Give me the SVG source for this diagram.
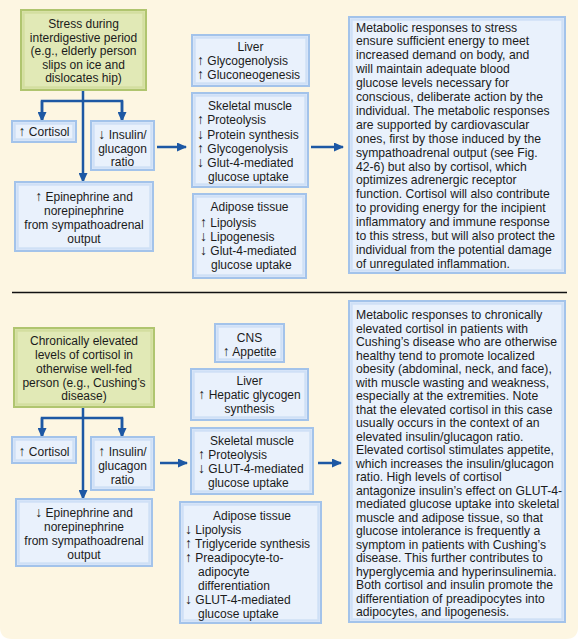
<svg xmlns="http://www.w3.org/2000/svg" width="578" height="639" viewBox="0 0 578 639">
<defs>
<style>
.t{font-family:"Liberation Sans",Arial,Helvetica,sans-serif;font-size:12px;fill:#1b1b1b}
.s{font-size:12.2px}
.a{font-size:14px}
.c{text-anchor:middle}
.bo{fill:#e9f1fc;stroke:#a3c3ea;stroke-width:2}
.bi{fill:none;stroke:#cfe0f6;stroke-width:2.5}
.go{fill:#e1e9b6;stroke:#b0c56f;stroke-width:2}
.gi{fill:none;stroke:#d3dea0;stroke-width:2.5}
.conn{stroke:#1d58a4;stroke-width:2.5;fill:none}
.arr{stroke:#1d58a4;stroke-width:2.5;fill:none;marker-end:url(#ah)}
</style>
<marker id="ah" markerUnits="userSpaceOnUse" markerWidth="10" markerHeight="9" refX="9" refY="4.5" orient="auto">
<path d="M0,0 L10,4.5 L0,9 z" fill="#1d58a4"/>
</marker>
</defs>
<path d="M0,0 H578 V627 Q578,639 566,639 H12 Q0,639 0,627 Z" fill="#fdf6e2"/>
<line x1="12" y1="292.5" x2="567" y2="292.5" stroke="#111" stroke-width="1.5"/>

<g id="connectors">
<line class="arr" x1="83" y1="90" x2="83" y2="182"/>
<polyline class="conn" points="42,121 42,101 122,101 122,121"/>
<line class="arr" x1="42" y1="101" x2="42" y2="121"/>
<line class="arr" x1="122" y1="101" x2="122" y2="121"/>
<line class="arr" x1="157" y1="147" x2="186" y2="147"/>
<line class="arr" x1="311" y1="147" x2="343" y2="147"/>
<line class="arr" x1="83" y1="407" x2="83" y2="499"/>
<polyline class="conn" points="42,437 42,418 122,418 122,437"/>
<line class="arr" x1="42" y1="418" x2="42" y2="437"/>
<line class="arr" x1="122" y1="418" x2="122" y2="437"/>
<line class="arr" x1="160" y1="463" x2="187" y2="463"/>
<line class="arr" x1="318" y1="463" x2="341" y2="463"/>
</g>

<g id="stress">
<rect class="go" x="21" y="10" width="125" height="80"/>
<rect class="gi" x="23.5" y="12.5" width="120" height="75"/>
<text class="t c" x="83.5"><tspan x="83.5" y="28">Stress during</tspan><tspan x="83.5" y="41.5">interdigestive period</tspan><tspan x="83.5" y="55">(e.g., elderly person</tspan><tspan x="83.5" y="68.5">slips on ice and</tspan><tspan x="83.5" y="82">dislocates hip)</tspan></text>
</g>
<g id="cortisol1">
<rect class="bo" x="12" y="121" width="64" height="21"/>
<rect class="bi" x="14.5" y="123.5" width="59" height="16"/>
<text class="t c" x="44" y="136"><tspan class="a">↑</tspan> Cortisol</text>
</g>
<g id="insulin1">
<rect class="bo" x="91" y="121" width="63" height="49"/>
<rect class="bi" x="93.5" y="123.5" width="58" height="44"/>
<text class="t c"><tspan x="122.5" y="139"><tspan class="a">↓</tspan> Insulin/</tspan><tspan x="122.5" y="153">glucagon</tspan><tspan x="122.5" y="166">ratio</tspan></text>
</g>
<g id="epi1">
<rect class="bo" x="15" y="182" width="138" height="69"/>
<rect class="bi" x="17.5" y="184.5" width="133" height="64"/>
<text class="t c"><tspan x="84" y="201"><tspan class="a">↑</tspan> Epinephrine and</tspan><tspan x="84" y="215">norepinephrine</tspan><tspan x="84" y="229">from sympathoadrenal</tspan><tspan x="84" y="243">output</tspan></text>
</g>
<g id="liver1">
<rect class="bo" x="192" y="35" width="117" height="51"/>
<rect class="bi" x="194.5" y="37.5" width="112" height="46"/>
<text class="t c" x="250.5" y="51">Liver</text>
<text class="t"><tspan x="197" y="65"><tspan class="a">↑</tspan> Glycogenolysis</tspan><tspan x="197" y="78.5"><tspan class="a">↑</tspan> Gluconeogenesis</tspan></text>
</g>
<g id="muscle1">
<rect class="bo" x="192" y="93" width="116" height="94"/>
<rect class="bi" x="194.5" y="95.5" width="111" height="89"/>
<text class="t c" x="250" y="110">Skeletal muscle</text>
<text class="t"><tspan x="197" y="124"><tspan class="a">↑</tspan> Proteolysis</tspan><tspan x="197" y="138.5"><tspan class="a">↓</tspan> Protein synthesis</tspan><tspan x="197" y="152.5"><tspan class="a">↑</tspan> Glycogenolysis</tspan><tspan x="197" y="166.5"><tspan class="a">↓</tspan> Glut-4-mediated</tspan><tspan x="208" y="180.5">glucose uptake</tspan></text>
</g>
<g id="adipose1">
<rect class="bo" x="193" y="194" width="113" height="84"/>
<rect class="bi" x="195.5" y="196.5" width="108" height="79"/>
<text class="t c" x="249.5" y="211">Adipose tissue</text>
<text class="t"><tspan x="200" y="227"><tspan class="a">↑</tspan> Lipolysis</tspan><tspan x="200" y="241"><tspan class="a">↓</tspan> Lipogenesis</tspan><tspan x="200" y="255"><tspan class="a">↓</tspan> Glut-4-mediated</tspan><tspan x="211" y="269">glucose uptake</tspan></text>
</g>
<g id="summary1">
<rect class="bo" x="349" y="17" width="216" height="256"/>
<rect class="bi" x="351.5" y="19.5" width="211" height="251"/>
<text class="t s"><tspan x="356" y="31.5">Metabolic responses to stress</tspan><tspan x="356" y="45.4">ensure sufficient energy to meet</tspan><tspan x="356" y="59.3">increased demand on body, and</tspan><tspan x="356" y="73.2">will maintain adequate blood</tspan><tspan x="356" y="87.1">glucose levels necessary for</tspan><tspan x="356" y="101">conscious, deliberate action by the</tspan><tspan x="356" y="114.9">individual. The metabolic responses</tspan><tspan x="356" y="128.8">are supported by cardiovascular</tspan><tspan x="356" y="142.7">ones, first by those induced by the</tspan><tspan x="356" y="156.6">sympathoadrenal output (see Fig.</tspan><tspan x="356" y="170.5">42-6) but also by cortisol, which</tspan><tspan x="356" y="184.4">optimizes adrenergic receptor</tspan><tspan x="356" y="198.3">function. Cortisol will also contribute</tspan><tspan x="356" y="212.2">to providing energy for the incipient</tspan><tspan x="356" y="226.1">inflammatory and immune response</tspan><tspan x="356" y="240">to this stress, but will also protect the</tspan><tspan x="356" y="253.9">individual from the potential damage</tspan><tspan x="356" y="267.8">of unregulated inflammation.</tspan></text>
</g>

<g id="chronic">
<rect class="go" x="14" y="328" width="140" height="79"/>
<rect class="gi" x="16.5" y="330.5" width="135" height="74"/>
<text class="t c"><tspan x="84" y="345">Chronically elevated</tspan><tspan x="84" y="359">levels of cortisol in</tspan><tspan x="84" y="373">otherwise well-fed</tspan><tspan x="84" y="386.5">person (e.g., Cushing’s</tspan><tspan x="84" y="400">disease)</tspan></text>
</g>
<g id="cortisol2">
<rect class="bo" x="12" y="437" width="64" height="26"/>
<rect class="bi" x="14.5" y="439.5" width="59" height="21"/>
<text class="t c" x="44" y="456"><tspan class="a">↑</tspan> Cortisol</text>
</g>
<g id="insulin2">
<rect class="bo" x="91" y="437" width="63" height="53"/>
<rect class="bi" x="93.5" y="439.5" width="58" height="48"/>
<text class="t c"><tspan x="122.5" y="456"><tspan class="a">↑</tspan> Insulin/</tspan><tspan x="122.5" y="470">glucagon</tspan><tspan x="122.5" y="484">ratio</tspan></text>
</g>
<g id="epi2">
<rect class="bo" x="16" y="499" width="136" height="67"/>
<rect class="bi" x="18.5" y="501.5" width="131" height="62"/>
<text class="t c"><tspan x="84" y="517"><tspan class="a">↓</tspan> Epinephrine and</tspan><tspan x="84" y="531">norepinephrine</tspan><tspan x="84" y="545">from sympathoadrenal</tspan><tspan x="84" y="558.5">output</tspan></text>
</g>
<g id="cns2">
<rect class="bo" x="215" y="324" width="69" height="38"/>
<rect class="bi" x="217.5" y="326.5" width="64" height="33"/>
<text class="t c"><tspan x="249.5" y="342">CNS</tspan><tspan x="249.5" y="355.5"><tspan class="a">↑</tspan> Appetite</tspan></text>
</g>
<g id="liver2">
<rect class="bo" x="191" y="369" width="117" height="51"/>
<rect class="bi" x="193.5" y="371.5" width="112" height="46"/>
<text class="t c"><tspan x="249.5" y="385">Liver</tspan><tspan x="249.5" y="399"><tspan class="a">↑</tspan> Hepatic glycogen</tspan><tspan x="249.5" y="413">synthesis</tspan></text>
</g>
<g id="muscle2">
<rect class="bo" x="191" y="428" width="122" height="66"/>
<rect class="bi" x="193.5" y="430.5" width="117" height="61"/>
<text class="t c" x="252" y="445">Skeletal muscle</text>
<text class="t"><tspan x="198" y="459"><tspan class="a">↑</tspan> Proteolysis</tspan><tspan x="198" y="473"><tspan class="a">↓</tspan> GLUT-4-mediated</tspan><tspan x="208" y="487">glucose uptake</tspan></text>
</g>
<g id="adipose2">
<rect class="bo" x="180" y="502" width="141" height="121"/>
<rect class="bi" x="182.5" y="504.5" width="136" height="116"/>
<text class="t c" x="252" y="520">Adipose tissue</text>
<text class="t"><tspan x="185" y="534"><tspan class="a">↓</tspan> Lipolysis</tspan><tspan x="185" y="548"><tspan class="a">↑</tspan> Triglyceride synthesis</tspan><tspan x="185" y="562"><tspan class="a">↑</tspan> Preadipocyte-to-</tspan><tspan x="198" y="576">adipocyte</tspan><tspan x="198" y="590">differentiation</tspan><tspan x="185" y="604"><tspan class="a">↓</tspan> GLUT-4-mediated</tspan><tspan x="198" y="618">glucose uptake</tspan></text>
</g>
<g id="summary2">
<rect class="bo" x="349" y="301" width="216" height="321"/>
<rect class="bi" x="351.5" y="303.5" width="211" height="316"/>
<text class="t s"><tspan x="356" y="319">Metabolic responses to chronically</tspan><tspan x="356" y="332.5">elevated cortisol in patients with</tspan><tspan x="356" y="346">Cushing’s disease who are otherwise</tspan><tspan x="356" y="359.5">healthy tend to promote localized</tspan><tspan x="356" y="373">obesity (abdominal, neck, and face),</tspan><tspan x="356" y="386.5">with muscle wasting and weakness,</tspan><tspan x="356" y="400">especially at the extremities. Note</tspan><tspan x="356" y="413.5">that the elevated cortisol in this case</tspan><tspan x="356" y="427">usually occurs in the context of an</tspan><tspan x="356" y="440.5">elevated insulin/glucagon ratio.</tspan><tspan x="356" y="454">Elevated cortisol stimulates appetite,</tspan><tspan x="356" y="467.5">which increases the insulin/glucagon</tspan><tspan x="356" y="481">ratio. High levels of cortisol</tspan><tspan x="356" y="494.5">antagonize insulin’s effect on GLUT-4-</tspan><tspan x="356" y="508">mediated glucose uptake into skeletal</tspan><tspan x="356" y="521.5">muscle and adipose tissue, so that</tspan><tspan x="356" y="535">glucose intolerance is frequently a</tspan><tspan x="356" y="548.5">symptom in patients with Cushing’s</tspan><tspan x="356" y="562">disease. This further contributes to</tspan><tspan x="356" y="575.5">hyperglycemia and hyperinsulinemia.</tspan><tspan x="356" y="589">Both cortisol and insulin promote the</tspan><tspan x="356" y="602.5">differentiation of preadipocytes into</tspan><tspan x="356" y="616">adipocytes, and lipogenesis.</tspan></text>
</g>
</svg>
